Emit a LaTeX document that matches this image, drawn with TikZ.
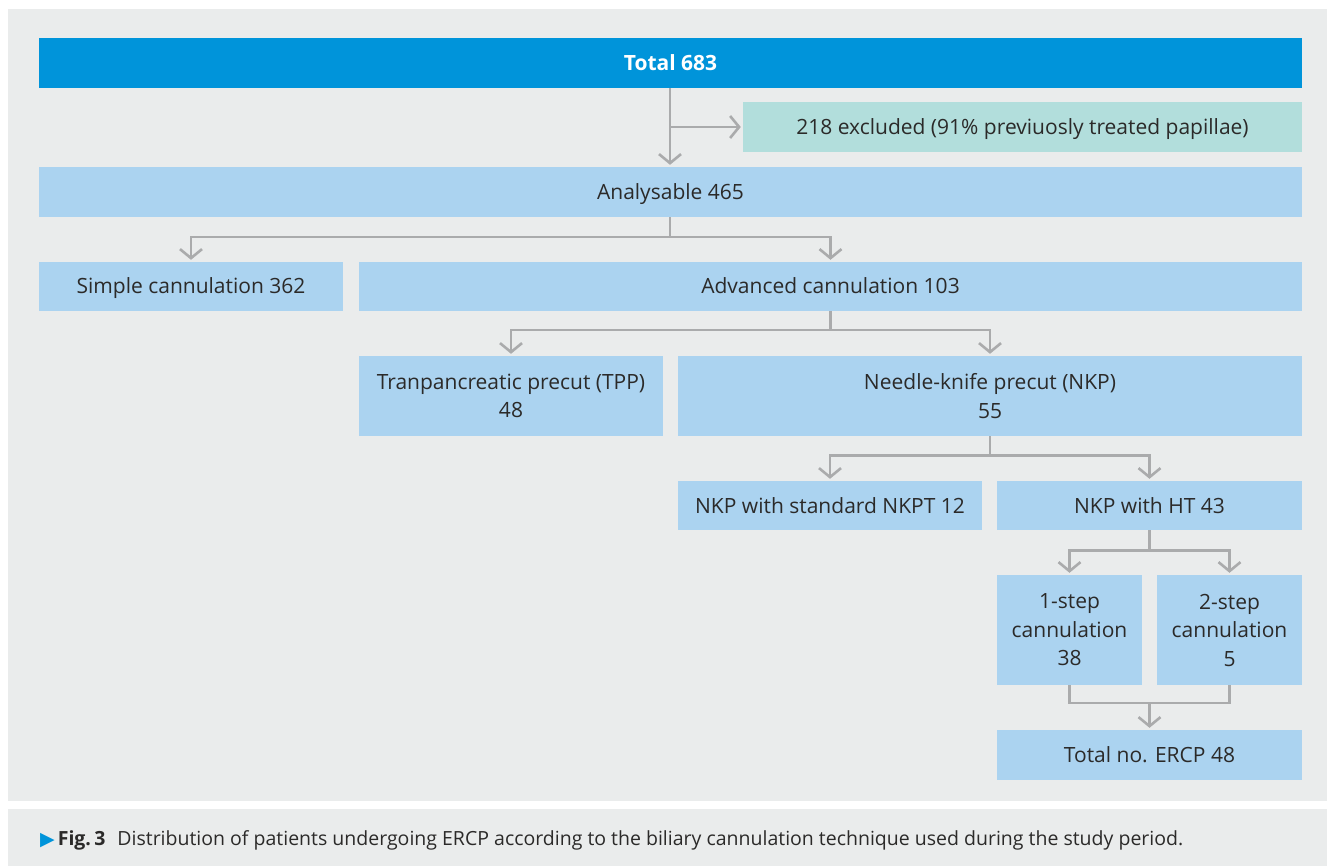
\documentclass[tikz,border=0pt]{standalone}
\usepackage{fontspec}
\setmainfont{Open Sans}
\newfontfamily\symfont{DejaVu Sans}
\usetikzlibrary{arrows.meta,calc}
\definecolor{panelgray}{RGB}{234,236,236}
\definecolor{topblue}{RGB}{0,148,218}
\definecolor{lightblue}{RGB}{171,211,240}
\definecolor{teal}{RGB}{178,222,220}
\definecolor{linegray}{RGB}{170,171,172}
\definecolor{txt}{RGB}{43,42,41}
\tikzset{
  box/.style={fill=lightblue, inner sep=0pt, text=txt, align=center,
    font=\fontsize{21}{28.5}\selectfont},
  oneline/.style={text height=20pt, text depth=5pt},
  conn/.style={draw=linegray, line width=2.6pt},
  arr/.style={conn, -{Straight Barb[length=9pt,width=22pt,line width=2.6pt]}, shorten >=2pt},
}
\begin{document}
\begin{tikzpicture}[x=1pt,y=-1pt]
\useasboundingbox (0,0) rectangle (1327,866);
\fill[white] (0,0) rectangle (1327,866);
\fill[panelgray] (8,9) rectangle (1327,801);
\fill[panelgray] (8,809) rectangle (1327,866);

\node[box, oneline, fill=topblue, text=white, font=\fontsize{21}{28.5}\selectfont\bfseries,
  minimum width=1263pt, minimum height=50pt] (total) at (670.5,63) {Total 683};
\node[box, oneline, fill=teal, minimum width=559pt, minimum height=50pt] (excl) at (1022.5,127)
  {218 excluded (91\% previuosly treated papillae)};
\node[box, oneline, minimum width=1263pt, minimum height=50pt] (anal) at (670.5,192) {Analysable 465};
\node[box, oneline, minimum width=304pt, minimum height=49pt] (simple) at (191,286.5) {Simple cannulation 362};
\node[box, oneline, minimum width=943pt, minimum height=49pt] (adv) at (830.5,286.5) {Advanced cannulation 103};
\node[box, minimum width=304pt, minimum height=80pt] (tpp) at (511,396) {Tranpancreatic precut (TPP)\\48};
\node[box, minimum width=624pt, minimum height=80pt] (nkp) at (990,396) {Needle-knife precut (NKP)\\55};
\node[box, oneline, minimum width=304pt, minimum height=49pt] (nkpt) at (830,505.5) {NKP with standard NKPT 12};
\node[box, oneline, minimum width=305pt, minimum height=49pt] (ht) at (1149.5,505.5) {NKP with HT 43};
\node[box, minimum width=145pt, minimum height=110pt] (s1) at (1069.5,630) {1-step\\cannulation\\38};
\node[box, minimum width=145pt, minimum height=110pt] (s2) at (1229.5,630) {2-step\\cannulation\\5};
\node[box, oneline, minimum width=305pt, minimum height=50pt] (tot) at (1149.5,755) {Total no. ERCP 48};

% connectors
\draw[arr] (total.south -| 670,0) -- (anal.north -| 670,0);
\coordinate (br) at (670,127);
\draw[arr] (br) -- (excl.west);

\coordinate (a1) at ($(anal.south -| 670,0)+(0,20)$);
\draw[conn] (anal.south -| 670,0) -- (a1);
\draw[arr] (a1) -| (simple.north);
\draw[arr] (a1) -| (adv.north);

\coordinate (a2) at ($(adv.south)+(0,19)$);
\draw[conn] (adv.south) -- (a2);
\draw[arr] (a2) -| (tpp.north);
\draw[arr] (a2) -| (nkp.north);

\coordinate (a3) at ($(nkp.south)+(0,19)$);
\draw[conn] (nkp.south) -- (a3);
\draw[arr] (a3) -| (nkpt.north);
\draw[arr] (a3) -| (ht.north);

\coordinate (a4) at ($(ht.south)+(0,20)$);
\draw[conn] (ht.south) -- (a4);
\draw[arr] (a4) -| (s1.north);
\draw[arr] (a4) -| (s2.north);

\coordinate (a5) at ($(tot.north)+(0,-27)$);
\draw[conn] (s1.south) |- (a5) -| (s2.south);
\draw[arr] (a5) -- (tot.north);

% caption
\node[anchor=base west, inner sep=0pt, text=txt, font=\fontsize{19.5}{23}\selectfont] (cap) at (40,845)
  {{\symfont\color{topblue}\fontsize{19}{20}\selectfont ▶}\hspace{3pt}\textbf{Fig.\,3}\hspace{12pt}Distribution of patients undergoing ERCP according to the biliary cannulation technique used during the study period.};
\end{tikzpicture}
\end{document}
